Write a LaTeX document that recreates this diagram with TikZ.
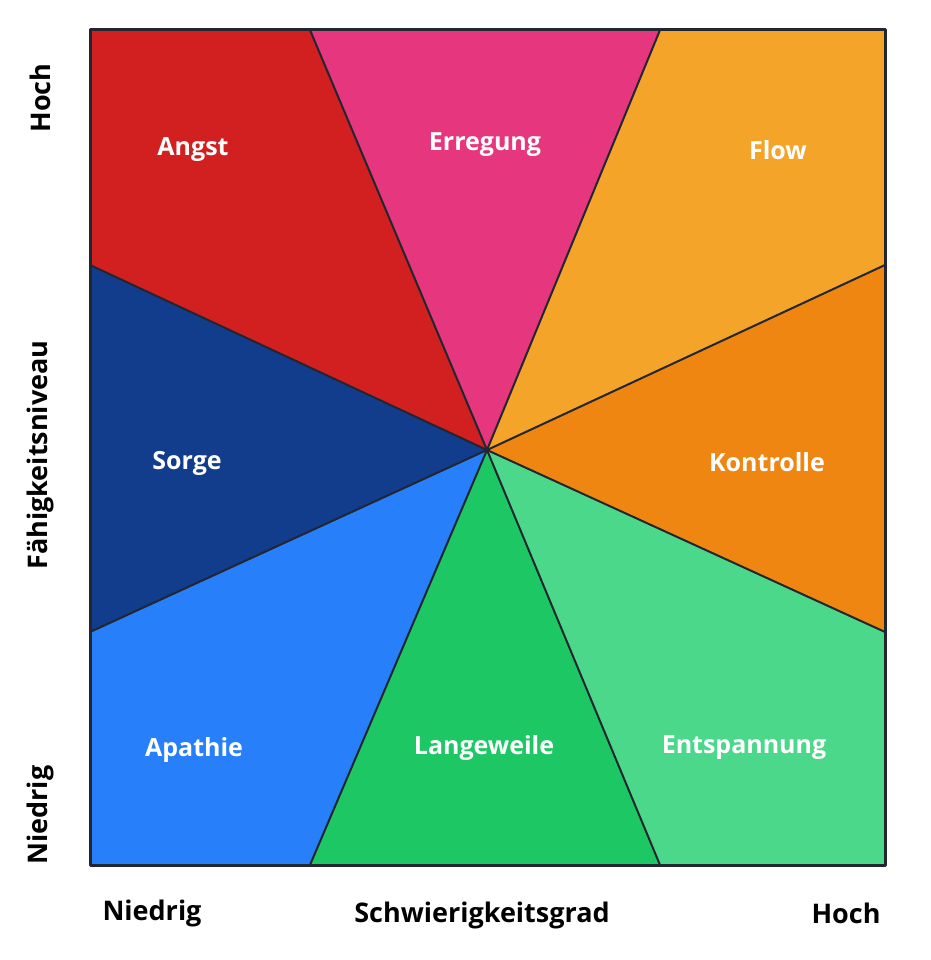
\documentclass[tikz,border=0pt]{standalone}
\usepackage{fontspec}
\setmainfont{Open Sans}
\definecolor{angstred}{HTML}{D21F1F}
\definecolor{erregpink}{HTML}{E6377E}
\definecolor{flowgold}{HTML}{F5A42A}
\definecolor{kontrorange}{HTML}{EE8611}
\definecolor{entspgreen}{HTML}{4CD88A}
\definecolor{langgreen}{HTML}{1DC864}
\definecolor{apathblue}{HTML}{2780FA}
\definecolor{sorgeblue}{HTML}{123C8C}
\definecolor{edgegray}{HTML}{222630}
\tikzset{
  sector/.style={draw=edgegray, line width=2pt, line join=round},
  zone/.style={text=white, font=\fontsize{25}{30}\selectfont\bfseries},
  axislabel/.style={text=black, font=\fontsize{27}{32}\selectfont\bfseries}
}
\begin{document}
\begin{tikzpicture}[x=1pt,y=-1pt]
  \useasboundingbox (0,0) rectangle (930,960);
  \coordinate (c) at (487,450);
  % sectors
  \fill[angstred]    (c) -- (90,265) -- (90,30) -- (310,30) -- cycle;
  \fill[erregpink]   (c) -- (310,30) -- (660,30) -- cycle;
  \fill[flowgold]    (c) -- (660,30) -- (885,30) -- (885,265) -- cycle;
  \fill[kontrorange] (c) -- (885,265) -- (885,632) -- cycle;
  \fill[entspgreen]  (c) -- (885,632) -- (885,865) -- (660,865) -- cycle;
  \fill[langgreen]   (c) -- (660,865) -- (310,865) -- cycle;
  \fill[apathblue]   (c) -- (310,865) -- (90,865) -- (90,632) -- cycle;
  \fill[sorgeblue]   (c) -- (90,632) -- (90,265) -- cycle;
  \foreach \p in {(90,265),(310,30),(660,30),(885,265),(885,632),(660,865),(310,865),(90,632)}
    \draw[sector] (c) -- \p;
  \draw[sector, line width=3pt] (90,30) rectangle (885,865);
  % zone labels
  \node[zone] (angst) at (193,150) {Angst};
  \node[zone] (erregung) at (485,145) {Erregung};
  \node[zone] (flow) at (778,150) {Flow};
  \node[zone] (sorge) at (187,463) {Sorge};
  \node[zone] (kontrolle) at (767,462) {Kontrolle};
  \node[zone] (apathie) at (194,750) {Apathie};
  \node[zone] (langeweile) at (484,748) {Langeweile};
  \node[zone] (entspannung) at (744,748) {Entspannung};
  % axes
  \node[axislabel, rotate=90] (yhigh) at (40,98) {Hoch};
  \node[axislabel, rotate=90] (ylabel) at (40,455) {Fähigkeitsniveau};
  \node[axislabel, rotate=90] (ylow) at (40,815) {Niedrig};
  \node[axislabel] (xlow) at (152,913) {Niedrig};
  \node[axislabel] (xlabel) at (482,915) {Schwierigkeitsgrad};
  \node[axislabel] (xhigh) at (846,913) {Hoch};
\end{tikzpicture}
\end{document}
